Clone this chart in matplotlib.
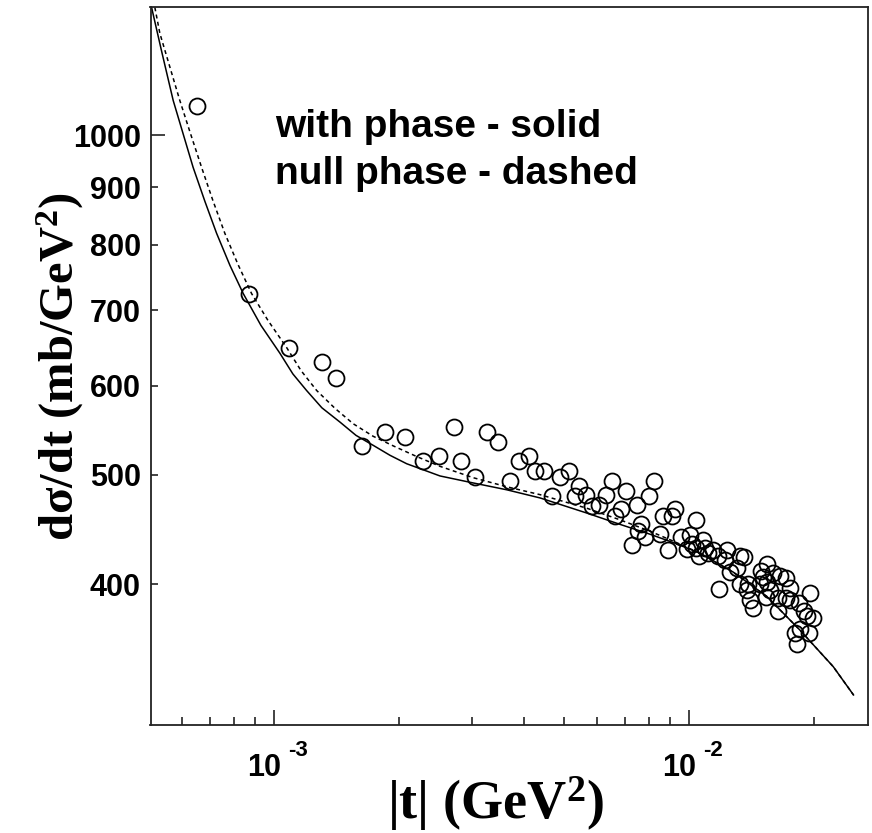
import matplotlib
matplotlib.use("Agg")
import matplotlib.pyplot as plt
from matplotlib.ticker import FixedLocator, FixedFormatter, NullFormatter
from matplotlib.transforms import blended_transform_factory, offset_copy

# ---------------- data ----------------
t_data = [6.52e-4, 8.70e-4, 1.087e-3, 1.301e-3, 1.409e-3, 1.627e-3, 1.847e-3, 2.070e-3,
          2.279e-3, 2.497e-3, 2.719e-3, 2.822e-3, 3.045e-3, 3.254e-3, 3.475e-3, 3.698e-3,
          3.899e-3, 4.128e-3, 4.245e-3, 4.463e-3, 4.671e-3, 4.891e-3, 5.133e-3, 5.307e-3,
          5.441e-3, 5.660e-3, 5.832e-3, 6.084e-3, 6.315e-3, 6.511e-3, 6.620e-3, 6.845e-3,
          7.069e-3, 7.503e-3, 8.018e-3, 8.260e-3, 7.672e-3, 7.558e-3, 7.286e-3, 7.845e-3,
          8.525e-3, 8.888e-3, 8.645e-3, 9.100e-3, 9.268e-3, 1.040e-2, 9.58e-3, 1.009e-2,
          9.89e-3, 1.041e-2, 1.059e-2, 1.085e-2, 1.017e-2, 1.115e-2, 1.147e-2, 1.235e-2,
          1.179e-2, 1.330e-2, 1.223e-2, 1.306e-2, 1.258e-2, 1.184e-2, 1.330e-2, 1.380e-2,
          1.392e-2, 1.486e-2, 1.543e-2, 1.494e-2, 1.514e-2, 1.600e-2, 1.661e-2, 1.717e-2,
          1.545e-2, 1.432e-2, 1.537e-2, 1.638e-2, 1.713e-2, 1.756e-2, 1.846e-2, 1.962e-2,
          1.897e-2, 1.998e-2, 1.926e-2, 1.805e-2, 1.856e-2, 1.951e-2, 1.820e-2, 1.645e-2,
          1.406e-2, 1.095e-2, 1.360e-2, 1.571e-2, 1.756e-2]
dsdt_data = [1061, 724, 648, 629, 610, 530, 546, 540,
             514, 520, 551, 514, 498, 546, 535, 494,
             514, 520, 504, 504, 479, 498, 504, 479,
             489, 480, 469.5, 470, 480, 494, 460, 466,
             484, 470, 479, 494, 452, 446, 433, 440,
             443, 429, 460, 460, 466, 456, 440, 442,
             430, 431, 424, 438, 434.5, 426, 429, 429,
             424, 424, 420, 413, 410, 396, 400, 395,
             400, 400, 417, 411, 406, 409, 407, 405,
             401.5, 381, 390, 389, 389, 387, 384.5, 392.5,
             379, 373, 375, 362, 365, 362, 354, 379,
             387, 431, 423, 395, 397]

# model with phase (solid)
t_solid = [5.06e-4, 5.358e-4, 5.706e-4, 6.373e-4, 6.805e-4, 7.26e-4, 7.819e-4, 8.42e-4,
           9.288e-4, 1.032e-3, 1.109e-3, 1.197e-3, 1.303e-3, 1.440e-3, 1.575e-3, 1.734e-3,
           1.902e-3, 2.087e-3, 2.511e-3, 3.021e-3, 3.638e-3, 4.377e-3, 5.675e-3, 6.828e-3,
           8.067e-3, 9.268e-3, 1.065e-2, 1.279e-2, 1.543e-2, 1.856e-2, 2.230e-2, 2.496e-2]
y_solid = [1299, 1185, 1074, 937, 874, 819, 767, 724,
           678.5, 641, 614.5, 594, 573.4, 557, 542, 531,
           520.4, 511.5, 498.9, 491.8, 485, 477, 462.5, 451.9,
           442.9, 434.8, 426, 410, 390, 364, 338, 319]

# null phase (dashed)
t_dash = [5.153e-4, 5.298e-4, 5.92e-4, 6.28e-4, 6.68e-4, 7.11e-4, 7.60e-4, 8.176e-4,
          8.82e-4, 9.656e-4, 1.071e-3, 1.160e-3, 1.266e-3, 1.401e-3, 1.551e-3, 1.731e-3,
          1.937e-3, 2.198e-3, 2.511e-3, 3.021e-3, 3.638e-3, 4.377e-3, 5.675e-3, 6.828e-3,
          8.067e-3, 9.268e-3, 1.065e-2, 1.279e-2, 1.543e-2, 1.856e-2, 2.230e-2, 2.496e-2]
y_dash = [1299, 1232, 1074, 1004, 937, 876, 819, 768.5,
          724, 685.5, 648.6, 618.8, 594, 572.8, 555, 541.1,
          530.5, 519.4, 508.8, 497.1, 488, 480.2, 467.1, 456.1,
          445.6, 436, 426, 410, 390, 364, 338, 319]

ytick_major = [1000]
ytick_minor = [400, 500, 600, 700, 800, 900]
xtick_major = [1e-3, 1e-2]
xtick_exps = ["-3", "-2"]
xtick_minor = [6e-4, 7e-4, 8e-4, 9e-4, 2e-3, 3e-3, 4e-3, 5e-3, 6e-3, 7e-3, 8e-3, 9e-3, 2e-2]

# ---------------- style ----------------
plt.rcParams["font.family"] = ["Liberation Sans", "DejaVu Sans"]
plt.rcParams["mathtext.fontset"] = "custom"
plt.rcParams["mathtext.rm"] = "Liberation Serif:bold"
plt.rcParams["mathtext.bf"] = "Liberation Serif:bold"
plt.rcParams["mathtext.it"] = "Liberation Serif:bold:italic"

W, H = 872, 833
fig = plt.figure(figsize=(W / 100, H / 100), dpi=100)
ax = fig.add_axes([150.5 / W, 1 - 725 / H, (868.3 - 150.5) / W, (725 - 7) / H])
ax.set_xscale("log")
ax.set_yscale("log")

ax.plot(t_solid, y_solid, color="black", lw=1.1, solid_joinstyle="round")
ax.plot(t_dash, y_dash, color="black", lw=1.1, linestyle=(0, (2.6, 2.2)))
ax.plot(t_data, dsdt_data, linestyle="none", marker="o", ms=11.5, mfc="none",
        mec="black", mew=1.3)

ax.set_xlim(5.03e-4, 0.0271)
ax.set_ylim(300, 1300)

ax.yaxis.set_major_locator(FixedLocator(ytick_major))
ax.yaxis.set_minor_locator(FixedLocator(ytick_minor))
ax.yaxis.set_major_formatter(FixedFormatter([str(v) for v in ytick_major]))
ax.yaxis.set_minor_formatter(FixedFormatter([str(v) for v in ytick_minor]))

ax.xaxis.set_major_locator(FixedLocator(xtick_major))
ax.xaxis.set_minor_locator(FixedLocator(xtick_minor))
ax.xaxis.set_major_formatter(NullFormatter())
ax.xaxis.set_minor_formatter(NullFormatter())

ax.tick_params(axis="both", which="both", direction="in", color="#222222", width=1.2)
ax.tick_params(axis="x", which="major", length=10.8)
ax.tick_params(axis="x", which="minor", length=5.8)
ax.tick_params(axis="y", which="major", length=10)
ax.tick_params(axis="y", which="minor", length=5)
ax.tick_params(axis="y", which="both", labelsize=22, pad=7)
for lab in ax.get_yticklabels(which="both"):
    lab.set_fontweight("bold")

for s in ax.spines.values():
    s.set_linewidth(1.3)
    s.set_color("#222222")

# x tick labels "10" with raised exponent
base = blended_transform_factory(ax.transData, fig.transFigure)
for xv, ex in zip(xtick_major, xtick_exps):
    tr1 = offset_copy(base, fig=fig, x=7, y=0, units="dots")
    ax.text(xv, (H - 776) / H, "10", transform=tr1, ha="right", va="baseline",
            fontsize=22, fontweight="bold")
    tr2 = offset_copy(base, fig=fig, x=14, y=0, units="dots")
    ax.text(xv, (H - 756) / H, ex, transform=tr2, ha="left", va="baseline",
            fontsize=16, fontweight="bold")

# annotation text
fig.text(275 / W, 1 - 137 / H, "with phase - solid", fontsize=28, fontweight="bold",
         ha="left", va="baseline")
fig.text(275 / W, 1 - 184 / H, "null phase - dashed", fontsize=28, fontweight="bold",
         ha="left", va="baseline")

# axis labels
fig.text(495 / W, 14 / H, "|t| (GeV$^{2}$)", family="Liberation Serif", fontweight="bold",
         fontsize=39, ha="center", va="baseline")
fig.text(60 / W, 1 - 367 / H, "d\u03c3/dt (mb/GeV$^{2}$)", family="Liberation Serif",
         fontweight="bold", fontsize=35, rotation=90, ha="center", va="center")

fig.savefig("out.png", dpi=100)
